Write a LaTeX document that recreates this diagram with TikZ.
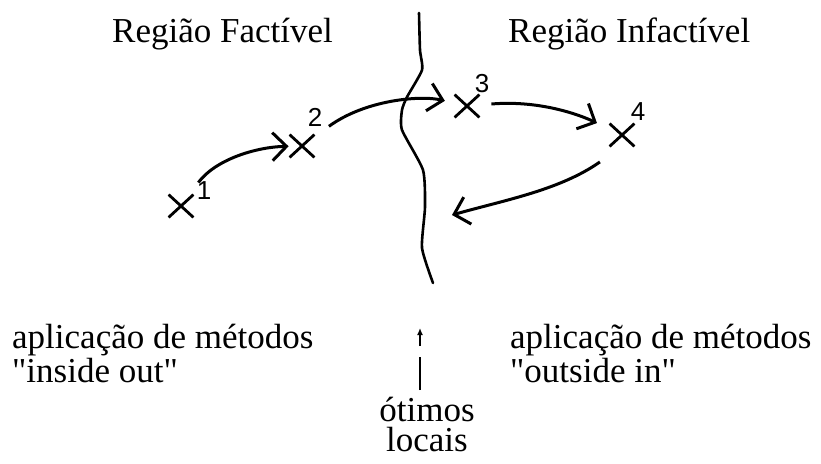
\documentclass[tikz,border=0pt]{standalone}
\usepackage{fontspec}
\setmainfont{Liberation Serif}[Ligatures=TeXOff]
\setsansfont{Liberation Sans}
\usepackage{tikz}
\usetikzlibrary{positioning,arrows.meta,shapes.misc,calc}

\begin{document}
\begin{tikzpicture}[
    x=1pt,y=-1pt,
    texto/.style={inner sep=0pt,font=\fontsize{35}{34}\selectfont},
    ponto/.style={cross out,draw,line width=2.8pt,minimum width=22pt,
      minimum height=20pt,inner sep=0pt},
    numero/.style={inner sep=0pt,font=\sffamily\fontsize{26}{26}\selectfont},
    salto/.style={line width=3pt,
      -{Straight Barb[length=14pt,width=28pt,line width=3pt]}},
    fronteira/.style={line width=2.6pt,line join=round,line cap=round},
    indica/.style={line width=1.4pt}
]
\useasboundingbox (0,0) rectangle (821,463);

\node[texto,anchor=base west] (factivel) at (112,42) {Região Factível};
\node[texto,anchor=base west] (infactivel) at (508,42) {Região Infactível};

\draw[fronteira] plot[smooth,tension=0.35] coordinates {
  (419,13) (420,50) (422,70) (407,97) (402,110) (402,130)
  (423,170) (425,207) (422,248) (433,283)};

\foreach \n/\px/\py/\dx/\dy in {1/181/206/23/-15,2/302/146/13/-29,
    3/467/106/15/-22,4/622/135/16/-23} {
  \node[ponto] (x\n) at (\px,\py) {};
  \node[numero] (n\n) at ($(x\n)+(\dx,\dy)$) {\n};
}
\coordinate (alvo) at (452,215);

\draw[salto,shorten <=15pt,shorten >=1pt]
  (x1) .. controls (215,160) and (255,147) .. (x2);
\draw[salto,shorten <=18pt,shorten >=10pt]
  (x2) .. controls (365,100) and (420,95) .. (x3);
\draw[salto,shorten <=12pt,shorten >=14pt]
  (x3) .. controls (540,100) and (580,115) .. (x4);
\draw[salto,shorten <=27pt]
  (x4.south) .. controls (560,190) and (505,200) .. (alvo);

\node[texto,anchor=base west,align=left] (dentro) at (12,382)
  {aplicação de métodos\\"inside out"};
\node[texto,anchor=base west,align=left] (fora) at (510,382)
  {aplicação de métodos\\"outside in"};
\node[texto,align=center,font=\fontsize{35}{30}\selectfont,anchor=base]
  (otimos) at (427,451) {ótimos\\locais};

\coordinate (haste) at (420,390);
\coordinate (ponta) at (420,346);
\draw[indica] (haste) -- ++(0,-33);
\draw[indica,-{Latex[length=7pt,width=6pt]}] (ponta) -- ++(0,-18);
\end{tikzpicture}
\end{document}
